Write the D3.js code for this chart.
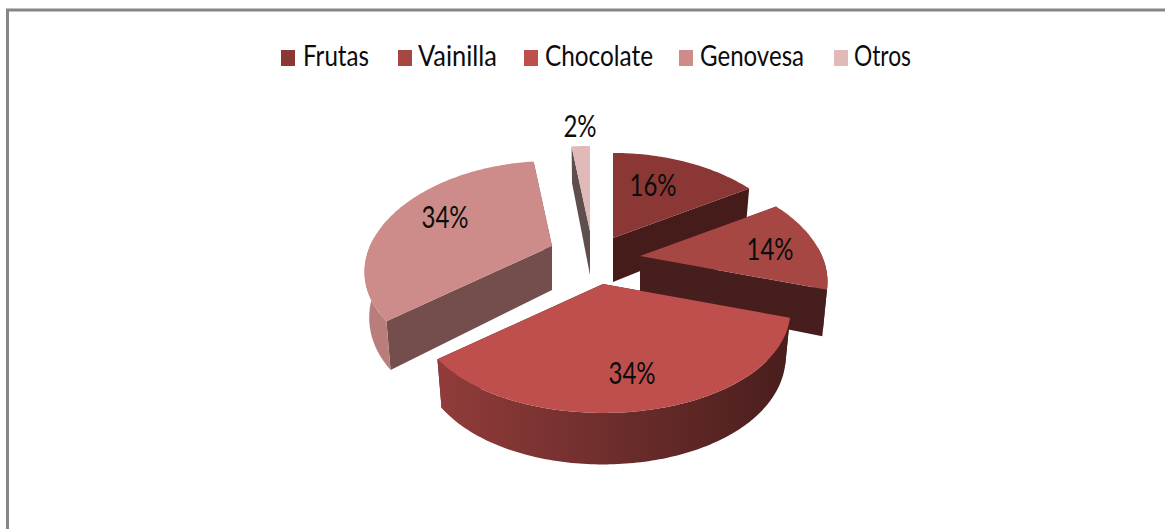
<!DOCTYPE html>
<html><head><meta charset="utf-8">
<script src="https://d3js.org/d3.v7.min.js"></script>
<style>html,body{margin:0;padding:0;background:#fff}svg{display:block}text{font-family:Lato,"Open Sans",sans-serif;fill:#0c0c0c}</style>
</head><body><div id="chart"></div>
<script>
const categories = ["Frutas","Vainilla","Chocolate","Genovesa","Otros"];
const shares = [16,14,34,34,2];
const colors = ["#8b3735","#a64744","#be4f4c","#cd8c8a","#e0b9b8"];

// layout: apex of each exploded slice, label offsets from it, legend positions
const apex = [[613,238],[640,256],[603,284],[552,246],[590,231]];
const labelOffset = [[40,-52],[130,-6],[29,90],[-107,-28],[-10,-104]];
const legendSwatchX = [281,398,524,679,834];
const legendTextX = [303,418,545,700,854];
const legendTextW = [66,79,108,104,57];
const drawOrder = [4,0,3,1,2];
const sideShade = [[.5,.5],[.42,.42],[.8,.37],[.9,.9],[.45,.45]];
const cutShade = [.5,.42,.37,.56,.42];

const W=1165,H=529, ky=.205, kx=.24, A=182, B=102.5, D=44;
const svg=d3.select("#chart").append("svg").attr("width",W).attr("height",H);
const defs=svg.append("defs");

const border=svg.append("g").attr("stroke","#868686").attr("fill","none");
border.append("path").attr("d",`M7.5,${H}V10H${W}`).attr("stroke-width",3);

const arcs=d3.pie().sort(null).value(d=>d).startAngle(0).endAngle(2*Math.PI)(shares);
const line=d3.line();
const top2=(t)=>{const x=Math.sin(t),y=Math.cos(t);return [A*x/(1+kx*y),-B*y/(1+ky*y),y];};
const low=(t)=>{const [x,y,v]=top2(t);return [x*.975,y+D*(1-.17*v)];};
const rgb=(c,m)=>{const q=d3.rgb(c);return d3.rgb(q.r*m,q.g*m,q.b*m).formatHex();};
const VIS=[85*Math.PI/180,275*Math.PI/180];

drawOrder.forEach(i=>{
  const a=arcs[i],[ax,ay]=apex[i],g=svg.append("g").attr("transform",`translate(${ax},${ay})`);
  const base=colors[i];
  const n=Math.max(8,Math.ceil((a.endAngle-a.startAngle)*60));
  const ts=d3.range(n+1).map(j=>a.startAngle+(a.endAngle-a.startAngle)*j/n);
  const origin=[0,0],originLow=[0,D];
  // radial cut faces
  [a.startAngle,a.endAngle].forEach(t=>{
    g.append("path").attr("fill",rgb(base,cutShade[i]))
     .attr("d",line([origin,top2(t).slice(0,2),low(t),originLow])+"Z");
  });
  // outer wall
  const s=Math.max(a.startAngle,VIS[0]),e=Math.min(a.endAngle,VIS[1]);
  if(e>s){
    const rt=d3.range(n+1).map(j=>s+(e-s)*j/n);
    const id="wall"+i;
    const gr=defs.append("linearGradient").attr("id",id).attr("gradientUnits","userSpaceOnUse")
      .attr("x1",-A*1.1).attr("x2",A*1.1).attr("y1",0).attr("y2",0);
    gr.append("stop").attr("offset",0).attr("stop-color",rgb(base,sideShade[i][0]));
    gr.append("stop").attr("offset",1).attr("stop-color",rgb(base,sideShade[i][1]));
    const pts=rt.map(t=>top2(t).slice(0,2)).concat(rt.slice().reverse().map(low));
    g.append("path").attr("fill",`url(#${id})`).attr("d",line(pts)+"Z");
  }
  // top face
  g.append("path").attr("fill",base).attr("d",line([origin].concat(ts.map(t=>top2(t).slice(0,2))))+"Z");
});

// value labels
arcs.forEach((a,i)=>{
  svg.append("text").attr("text-anchor","middle")
    .attr("transform",`translate(${apex[i][0]+labelOffset[i][0]},${apex[i][1]+labelOffset[i][1]+10}) scale(1,1.25)`)
    .attr("font-size",24).text(shares[i]+"%");
});

// legend
categories.forEach((c,i)=>{
  svg.append("rect").attr("x",legendSwatchX[i]).attr("y",50).attr("width",14).attr("height",16).attr("fill",colors[i]);
  svg.append("text").attr("transform",`translate(${legendTextX[i]},66) scale(1,1.25)`)
    .attr("font-size",23).attr("textLength",legendTextW[i]).attr("lengthAdjust","spacingAndGlyphs").text(c);
});
</script></body></html>
